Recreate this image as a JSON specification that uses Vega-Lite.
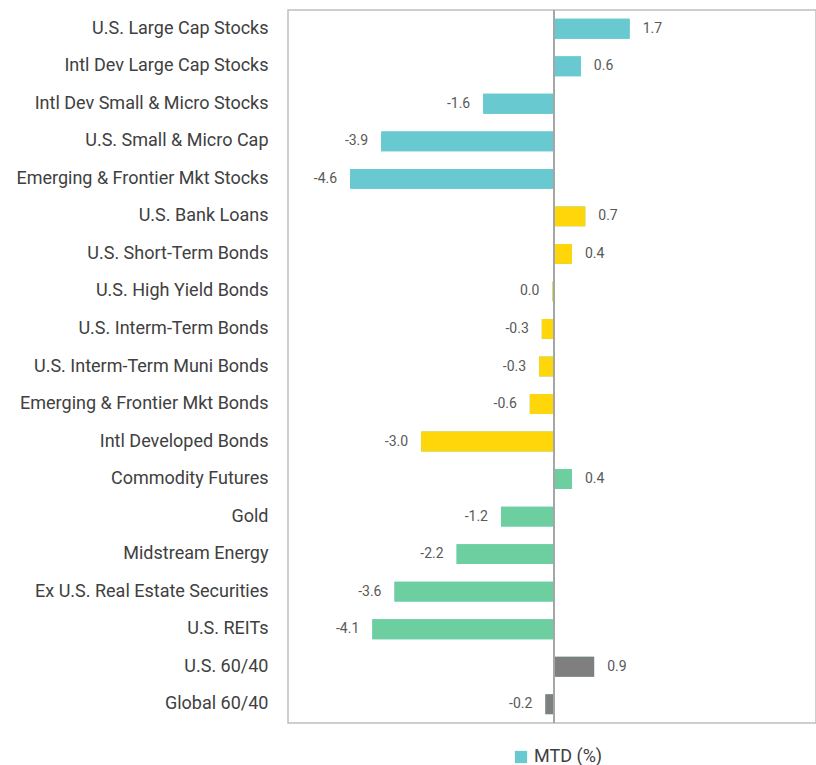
{
  "$schema": "https://vega.github.io/schema/vega-lite/v6.json",
  "width": 528,
  "height": 713,
  "autosize": {"type": "none"},
  "padding": {"left": 288, "top": 10, "right": 0, "bottom": 42},
  "background": "white",
  "config": {
    "view": {"stroke": "#BFBFBF", "strokeWidth": 1.5},
    "font": "Roboto"
  },
  "data": {
    "values": [
      {"asset": "U.S. Large Cap Stocks", "value": 1.7, "label": "1.7", "group": "Equity", "series": "MTD (%)"},
      {"asset": "Intl Dev Large Cap Stocks", "value": 0.6, "label": "0.6", "group": "Equity", "series": "MTD (%)"},
      {"asset": "Intl Dev Small & Micro Stocks", "value": -1.6, "label": "-1.6", "group": "Equity", "series": "MTD (%)"},
      {"asset": "U.S. Small & Micro Cap", "value": -3.9, "label": "-3.9", "group": "Equity", "series": "MTD (%)"},
      {"asset": "Emerging & Frontier Mkt Stocks", "value": -4.6, "label": "-4.6", "group": "Equity", "series": "MTD (%)"},
      {"asset": "U.S. Bank Loans", "value": 0.7, "label": "0.7", "group": "Fixed Income", "series": "MTD (%)"},
      {"asset": "U.S. Short-Term Bonds", "value": 0.4, "label": "0.4", "group": "Fixed Income", "series": "MTD (%)"},
      {"asset": "U.S. High Yield Bonds", "value": -0.04, "label": "0.0", "group": "Fixed Income", "series": "MTD (%)"},
      {"asset": "U.S. Interm-Term Bonds", "value": -0.28, "label": "-0.3", "group": "Fixed Income", "series": "MTD (%)"},
      {"asset": "U.S. Interm-Term Muni Bonds", "value": -0.34, "label": "-0.3", "group": "Fixed Income", "series": "MTD (%)"},
      {"asset": "Emerging & Frontier Mkt Bonds", "value": -0.55, "label": "-0.6", "group": "Fixed Income", "series": "MTD (%)"},
      {"asset": "Intl Developed Bonds", "value": -3.0, "label": "-3.0", "group": "Fixed Income", "series": "MTD (%)"},
      {"asset": "Commodity Futures", "value": 0.4, "label": "0.4", "group": "Real Assets", "series": "MTD (%)"},
      {"asset": "Gold", "value": -1.2, "label": "-1.2", "group": "Real Assets", "series": "MTD (%)"},
      {"asset": "Midstream Energy", "value": -2.2, "label": "-2.2", "group": "Real Assets", "series": "MTD (%)"},
      {"asset": "Ex U.S. Real Estate Securities", "value": -3.6, "label": "-3.6", "group": "Real Assets", "series": "MTD (%)"},
      {"asset": "U.S. REITs", "value": -4.1, "label": "-4.1", "group": "Real Assets", "series": "MTD (%)"},
      {"asset": "U.S. 60/40", "value": 0.9, "label": "0.9", "group": "Balanced", "series": "MTD (%)"},
      {"asset": "Global 60/40", "value": -0.2, "label": "-0.2", "group": "Balanced", "series": "MTD (%)"}
    ]
  },
  "encoding": {
    "y": {
      "field": "asset",
      "type": "nominal",
      "sort": null,
      "scale": {"paddingInner": 0.47, "paddingOuter": 0.235},
      "axis": {
        "title": null,
        "domain": false,
        "ticks": false,
        "labelFontSize": 18,
        "labelColor": "#404040",
        "labelPadding": 20,
        "labelLimit": 400,
        "labelFont": "Roboto"
      }
    },
    "x": {
      "field": "value",
      "type": "quantitative",
      "scale": {"domain": [-6, 5.9], "nice": false, "zero": false},
      "axis": null
    }
  },
  "layer": [
    {
      "mark": {"type": "bar"},
      "encoding": {
        "color": {
          "field": "series",
          "type": "nominal",
          "scale": {"range": ["#69C9D0"]},
          "legend": {
            "title": null,
            "orient": "none",
            "legendX": 224,
            "legendY": 738,
            "symbolType": "square",
            "symbolSize": 150,
            "labelFontSize": 18,
            "labelColor": "#404040",
            "labelFont": "Roboto"
          }
        }
      }
    },
    {
      "mark": {"type": "bar"},
      "encoding": {
        "fill": {
          "field": "group",
          "type": "nominal",
          "scale": {
            "domain": ["Equity", "Fixed Income", "Real Assets", "Balanced"],
            "range": ["#69C9D0", "#FFD60A", "#6DCF9F", "#7F7F7F"]
          },
          "legend": null
        }
      }
    },
    {
      "mark": {"type": "rule", "color": "#A6A6A6", "strokeWidth": 1.5},
      "encoding": {
        "x": {"datum": 0},
        "y": {"value": 0},
        "y2": {"value": 713}
      }
    },
    {
      "transform": [{"filter": "datum.value > 0"}],
      "mark": {"type": "text", "align": "left", "dx": 13, "fontSize": 14, "color": "#595959", "font": "Roboto"},
      "encoding": {"text": {"field": "label"}}
    },
    {
      "transform": [{"filter": "datum.value <= 0"}],
      "mark": {"type": "text", "align": "right", "dx": -13, "fontSize": 14, "color": "#595959", "font": "Roboto"},
      "encoding": {"text": {"field": "label"}}
    }
  ]
}
